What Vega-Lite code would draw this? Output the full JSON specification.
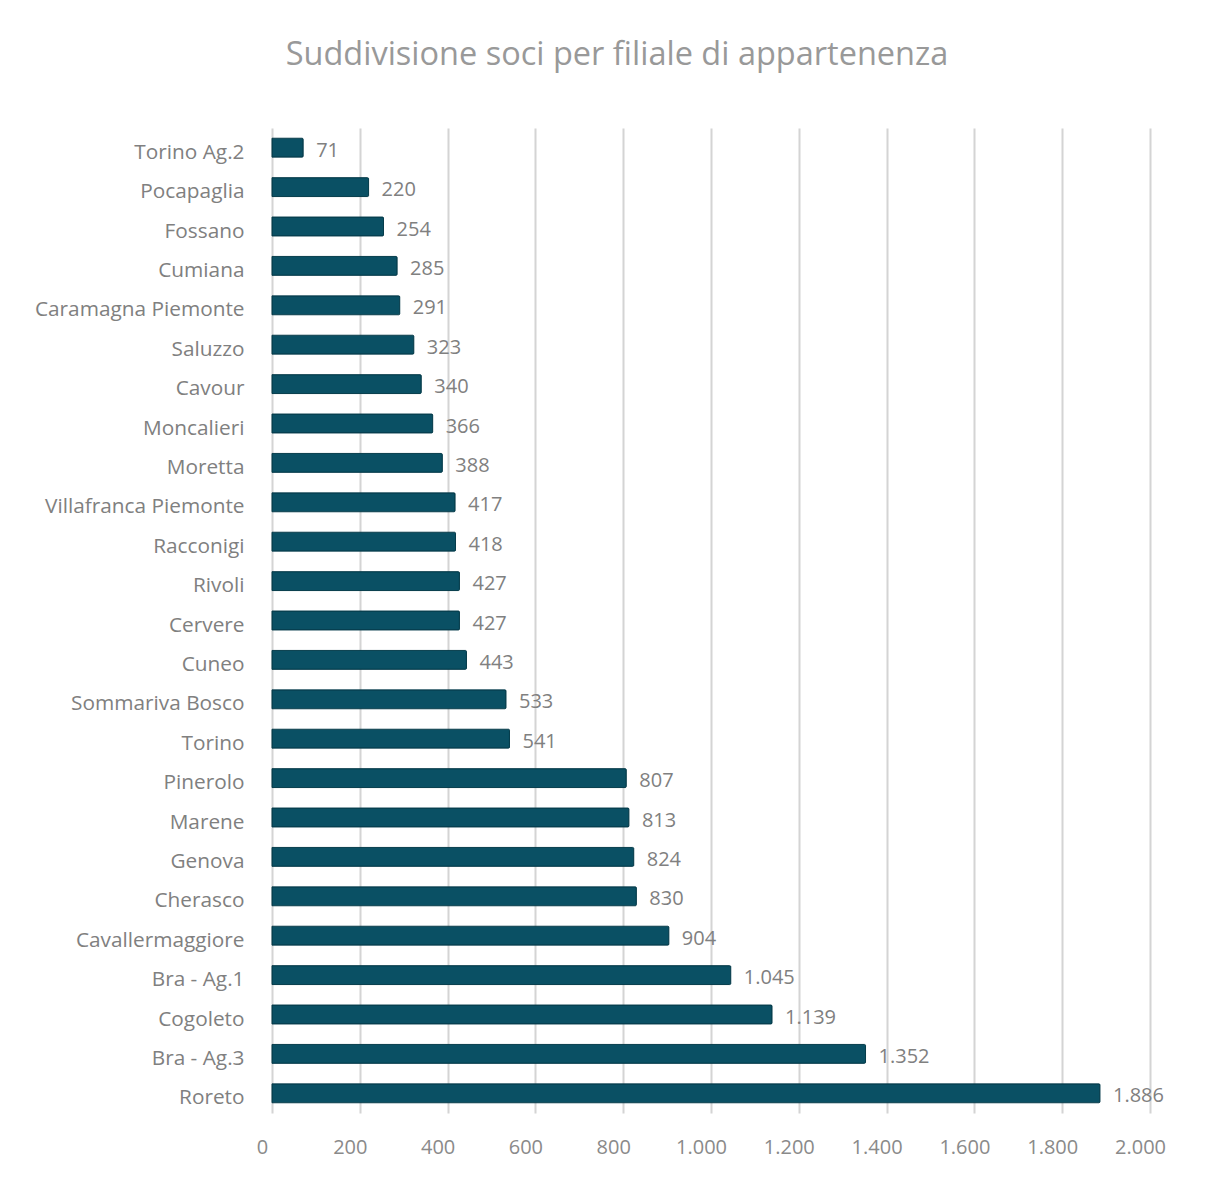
{
  "$schema": "https://vega.github.io/schema/vega-lite/v6.json",
  "autosize": "none",
  "width": 878,
  "height": 985,
  "padding": {"left": 272, "top": 128, "right": 57, "bottom": 64},
  "background": "white",
  "config": {
    "locale": {"number": {"decimal": ",", "thousands": ".", "grouping": [3], "currency": ["€", ""]}},
    "view": {"stroke": null},
    "font": "Open Sans"
  },
  "title": {
    "text": "Suddivisione soci per filiale di appartenenza",
    "fontSize": 32.5,
    "font": "Open Sans",
    "fontWeight": "normal",
    "color": "#999999",
    "anchor": "middle",
    "dx": -94,
    "offset": 57
  },
  "data": {
    "values": [
      {"filiale": "Torino Ag.2", "soci": 71},
      {"filiale": "Pocapaglia", "soci": 220},
      {"filiale": "Fossano", "soci": 254},
      {"filiale": "Cumiana", "soci": 285},
      {"filiale": "Caramagna Piemonte", "soci": 291},
      {"filiale": "Saluzzo", "soci": 323},
      {"filiale": "Cavour", "soci": 340},
      {"filiale": "Moncalieri", "soci": 366},
      {"filiale": "Moretta", "soci": 388},
      {"filiale": "Villafranca Piemonte", "soci": 417},
      {"filiale": "Racconigi", "soci": 418},
      {"filiale": "Rivoli", "soci": 427},
      {"filiale": "Cervere", "soci": 427},
      {"filiale": "Cuneo", "soci": 443},
      {"filiale": "Sommariva Bosco", "soci": 533},
      {"filiale": "Torino", "soci": 541},
      {"filiale": "Pinerolo", "soci": 807},
      {"filiale": "Marene", "soci": 813},
      {"filiale": "Genova", "soci": 824},
      {"filiale": "Cherasco", "soci": 830},
      {"filiale": "Cavallermaggiore", "soci": 904},
      {"filiale": "Bra - Ag.1", "soci": 1045},
      {"filiale": "Cogoleto", "soci": 1139},
      {"filiale": "Bra - Ag.3", "soci": 1352},
      {"filiale": "Roreto", "soci": 1886}
    ]
  },
  "encoding": {
    "y": {
      "field": "filiale",
      "type": "nominal",
      "sort": null,
      "scale": {"paddingInner": 0.52, "paddingOuter": 0.26},
      "axis": {
        "title": null,
        "ticks": false,
        "domain": false,
        "labelFontSize": 20.8,
        "labelColor": "#808080",
        "labelPadding": 28,
        "labelOffset": 5,
        "labelFont": "Open Sans",
        "labelLimit": 300
      }
    },
    "x": {
      "field": "soci",
      "type": "quantitative",
      "scale": {"domain": [0, 2000], "nice": false},
      "axis": {
        "title": null,
        "values": [0, 200, 400, 600, 800, 1000, 1200, 1400, 1600, 1800, 2000],
        "format": ",d",
        "ticks": false,
        "domain": false,
        "grid": true,
        "gridColor": "#d4d4d4",
        "gridWidth": 2,
        "labelFontSize": 20,
        "labelColor": "#8a8a8a",
        "labelPadding": 24,
        "labelOffset": -10,
        "labelFlush": false,
        "labelOverlap": false,
        "labelFont": "Open Sans"
      }
    }
  },
  "layer": [
    {
      "mark": {"type": "bar", "color": "#0a5064", "stroke": "#063c4b", "strokeWidth": 1, "cornerRadiusEnd": 1}
    },
    {
      "mark": {"type": "text", "align": "left", "baseline": "middle", "dx": 13, "dy": 3, "fontSize": 20, "color": "#808080", "font": "Open Sans"},
      "encoding": {"text": {"field": "soci", "type": "quantitative", "format": ",d"}}
    }
  ]
}
